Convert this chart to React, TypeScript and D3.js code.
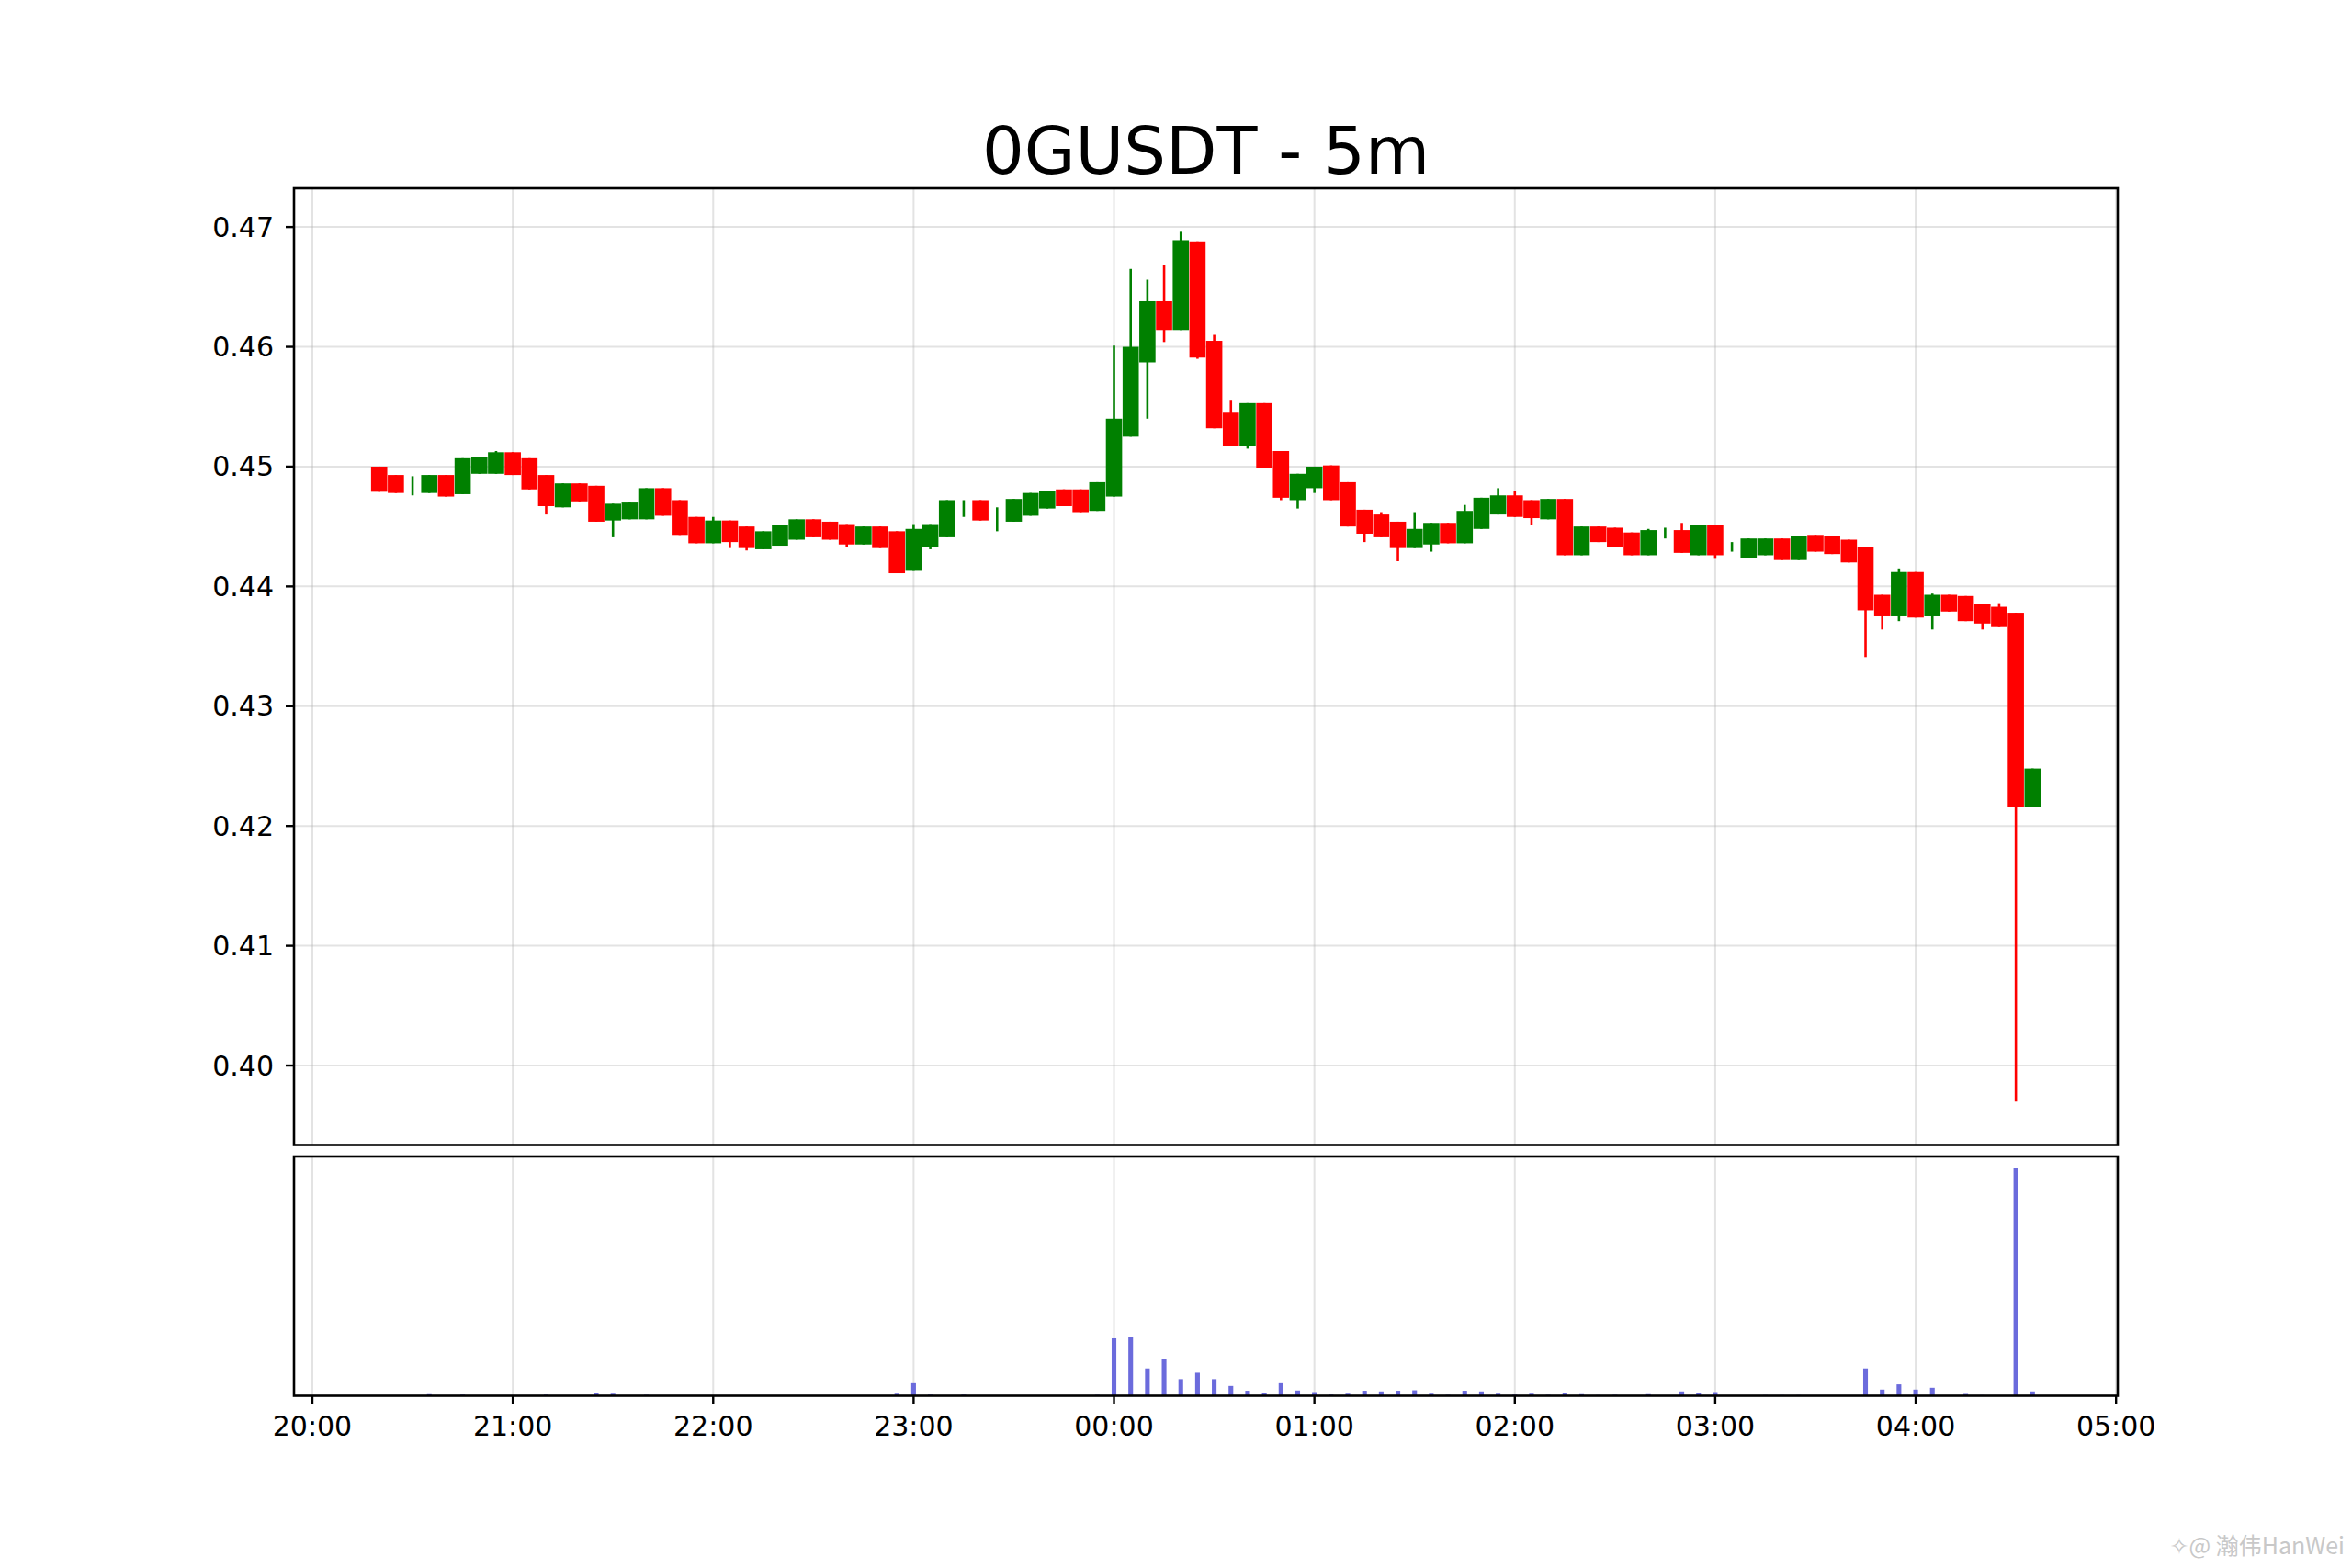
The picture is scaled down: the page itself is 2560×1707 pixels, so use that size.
import React from 'react';
import * as d3 from 'd3';

// 5m candles, 20:20 -> 04:35
const times = [
  '20:20', '20:25', '20:30', '20:35', '20:40', '20:45', '20:50', '20:55',
  '21:00', '21:05', '21:10', '21:15', '21:20', '21:25', '21:30', '21:35', '21:40', '21:45', '21:50', '21:55',
  '22:00', '22:05', '22:10', '22:15', '22:20', '22:25', '22:30', '22:35', '22:40', '22:45', '22:50', '22:55',
  '23:00', '23:05', '23:10', '23:15', '23:20', '23:25', '23:30', '23:35', '23:40', '23:45', '23:50', '23:55',
  '00:00', '00:05', '00:10', '00:15', '00:20', '00:25', '00:30', '00:35', '00:40', '00:45', '00:50', '00:55',
  '01:00', '01:05', '01:10', '01:15', '01:20', '01:25', '01:30', '01:35', '01:40', '01:45', '01:50', '01:55',
  '02:00', '02:05', '02:10', '02:15', '02:20', '02:25', '02:30', '02:35', '02:40', '02:45', '02:50', '02:55',
  '03:00', '03:05', '03:10', '03:15', '03:20', '03:25', '03:30', '03:35', '03:40', '03:45', '03:50', '03:55',
  '04:00', '04:05', '04:10', '04:15', '04:20', '04:25', '04:30', '04:35',
];

const opens = [
  0.4500, 0.4493, 0.4484, 0.4478, 0.4493, 0.4477, 0.4494, 0.4494,
  0.4512, 0.4507, 0.4493, 0.4466, 0.4486, 0.4484, 0.4455, 0.4456, 0.4456, 0.4482, 0.4472, 0.4458,
  0.4436, 0.4455, 0.4450, 0.4431, 0.4434, 0.4439, 0.4456, 0.4454, 0.4452, 0.4435, 0.4450, 0.4446,
  0.4413, 0.4433, 0.4441, 0.4466, 0.4472, 0.4455, 0.4454, 0.4459, 0.4465, 0.4481, 0.4481, 0.4463,
  0.4475, 0.4525, 0.4587, 0.4638, 0.4614, 0.4688, 0.4605, 0.4545, 0.4517, 0.4553, 0.4513, 0.4472,
  0.4482, 0.4501, 0.4487, 0.4464, 0.4460, 0.4454, 0.4432, 0.4435, 0.4453, 0.4436, 0.4448, 0.4460,
  0.4476, 0.4472, 0.4456, 0.4473, 0.4426, 0.4450, 0.4449, 0.4445, 0.4426, 0.4445, 0.4447, 0.4426,
  0.4451, 0.4434, 0.4424, 0.4426, 0.4440, 0.4422, 0.4443, 0.4442, 0.4439, 0.4433, 0.4393, 0.4375,
  0.4412, 0.4375, 0.4393, 0.4392, 0.4385, 0.4383, 0.4378, 0.4216,
];

const highs = [
  0.4500, 0.4493, 0.4492, 0.4493, 0.4493, 0.4507, 0.4508, 0.4513,
  0.4512, 0.4507, 0.4493, 0.4486, 0.4486, 0.4484, 0.4469, 0.4470, 0.4482, 0.4482, 0.4472, 0.4458,
  0.4458, 0.4455, 0.4450, 0.4446, 0.4451, 0.4456, 0.4456, 0.4454, 0.4452, 0.4450, 0.4450, 0.4446,
  0.4452, 0.4452, 0.4472, 0.4472, 0.4472, 0.4466, 0.4473, 0.4478, 0.4480, 0.4481, 0.4481, 0.4487,
  0.4601, 0.4665, 0.4656, 0.4668, 0.4696, 0.4688, 0.4610, 0.4555, 0.4553, 0.4553, 0.4513, 0.4494,
  0.4500, 0.4501, 0.4487, 0.4464, 0.4462, 0.4454, 0.4462, 0.4453, 0.4453, 0.4468, 0.4474, 0.4482,
  0.4480, 0.4472, 0.4473, 0.4473, 0.4450, 0.4450, 0.4449, 0.4445, 0.4448, 0.4449, 0.4453, 0.4451,
  0.4451, 0.4437, 0.4440, 0.4440, 0.4440, 0.4442, 0.4443, 0.4442, 0.4439, 0.4433, 0.4393, 0.4415,
  0.4412, 0.4394, 0.4393, 0.4392, 0.4385, 0.4386, 0.4378, 0.4248,
];

const lows = [
  0.4479, 0.4478, 0.4476, 0.4478, 0.4475, 0.4477, 0.4494, 0.4494,
  0.4493, 0.4481, 0.4460, 0.4466, 0.4471, 0.4454, 0.4441, 0.4456, 0.4456, 0.4459, 0.4443, 0.4436,
  0.4436, 0.4432, 0.4430, 0.4431, 0.4434, 0.4439, 0.4441, 0.4439, 0.4433, 0.4435, 0.4432, 0.4411,
  0.4413, 0.4431, 0.4441, 0.4458, 0.4455, 0.4446, 0.4454, 0.4459, 0.4465, 0.4467, 0.4462, 0.4463,
  0.4475, 0.4525, 0.4540, 0.4604, 0.4614, 0.4590, 0.4532, 0.4517, 0.4515, 0.4499, 0.4472, 0.4465,
  0.4478, 0.4472, 0.4450, 0.4437, 0.4441, 0.4421, 0.4432, 0.4429, 0.4436, 0.4436, 0.4448, 0.4460,
  0.4458, 0.4451, 0.4456, 0.4426, 0.4426, 0.4437, 0.4433, 0.4426, 0.4426, 0.4440, 0.4428, 0.4426,
  0.4423, 0.4429, 0.4424, 0.4426, 0.4422, 0.4422, 0.4429, 0.4427, 0.4420, 0.4341, 0.4364, 0.4371,
  0.4374, 0.4364, 0.4379, 0.4371, 0.4364, 0.4366, 0.3970, 0.4216,
];

const closes = [
  0.4479, 0.4478, 0.4484, 0.4493, 0.4475, 0.4507, 0.4508, 0.4512,
  0.4493, 0.4481, 0.4467, 0.4486, 0.4471, 0.4454, 0.4469, 0.4470, 0.4482, 0.4459, 0.4443, 0.4436,
  0.4455, 0.4437, 0.4432, 0.4446, 0.4451, 0.4456, 0.4441, 0.4439, 0.4435, 0.4450, 0.4432, 0.4411,
  0.4448, 0.4452, 0.4472, 0.4466, 0.4455, 0.4455, 0.4473, 0.4478, 0.4480, 0.4467, 0.4462, 0.4487,
  0.4540, 0.4600, 0.4638, 0.4614, 0.4689, 0.4591, 0.4532, 0.4517, 0.4553, 0.4499, 0.4474, 0.4494,
  0.4500, 0.4472, 0.4450, 0.4444, 0.4441, 0.4432, 0.4448, 0.4453, 0.4436, 0.4463, 0.4474, 0.4476,
  0.4458, 0.4457, 0.4473, 0.4426, 0.4450, 0.4437, 0.4433, 0.4426, 0.4447, 0.4445, 0.4428, 0.4451,
  0.4426, 0.4434, 0.4440, 0.4440, 0.4422, 0.4442, 0.4429, 0.4427, 0.4420, 0.4380, 0.4375, 0.4412,
  0.4374, 0.4393, 0.4379, 0.4371, 0.4369, 0.4366, 0.4216, 0.4248,
];

// relative volume (no axis labels in the source)
const volumes = [
  2, 1, 1, 7, 1, 5, 1, 1,
  1, 1, 5, 1, 1, 11, 9, 1, 4, 1, 1, 1,
  1, 1, 1, 1, 1, 1, 1, 1, 1, 1, 1, 9,
  55, 5, 1, 5, 1, 1, 1, 1, 1, 1, 1, 4,
  252, 257, 120, 160, 73, 101, 73, 43, 22, 11, 55, 23,
  16, 5, 9, 22, 19, 22, 24, 9, 4, 22, 19, 9,
  5, 9, 4, 11, 7, 3, 4, 1, 7, 1, 19, 11,
  16, 1, 1, 3, 3, 3, 1, 1, 1, 120, 27, 50,
  27, 35, 1, 8, 3, 1, 1000, 19,
];

const TITLE = '0GUSDT - 5m';
const UP = '#008000';
const DOWN = '#ff0000';
const VOL = '#6b6bdc';
const FONT = '"DejaVu Sans", sans-serif';

const W = 2560;
const H = 1707;
const mainBox = { left: 320, right: 2305, top: 205, bottom: 1246.5 };
const volBox = { left: 320, right: 2305, top: 1259, bottom: 1519.5 };

const MIN = 60 * 1000;

function toDate(t: string) {
  const [h, m] = t.split(':').map(Number);
  const day = h < 12 ? 2 : 1; // after midnight -> next day
  return new Date(Date.UTC(2025, 0, day, h, m));
}

const candles = times.map((t, i) => ({
  date: toDate(t),
  o: opens[i],
  h: Math.max(highs[i], opens[i], closes[i]),
  l: Math.min(lows[i], opens[i], closes[i]),
  c: closes[i],
  v: volumes[i],
}));

export default function App() {
  const first = candles[0].date.getTime();
  const last = candles[candles.length - 1].date.getTime();
  const pad = 25.5 * MIN;

  const x = d3.scaleUtc()
    .domain([new Date(first - pad), new Date(last + pad)])
    .range([mainBox.left, mainBox.right]);

  const lo = d3.min(candles, d => d.l)!;
  const hi = d3.max(candles, d => d.h)!;
  const span = hi - lo;
  const y = d3.scaleLinear()
    .domain([lo - span * 0.05, hi + span * 0.05])
    .range([mainBox.bottom, mainBox.top]);

  const vMax = d3.max(candles, d => d.v)!;
  const yv = d3.scaleLinear()
    .domain([0, vMax * 1.05])
    .range([volBox.bottom, volBox.top]);

  const bodyW = x(new Date(first + 4.85 * MIN)) - x(new Date(first));
  const volW = x(new Date(first + 1.4 * MIN)) - x(new Date(first));

  const xTicks = x.ticks(d3.utcHour.every(1)!);
  const fmt = d3.utcFormat('%H:%M');
  const yTicks = d3.range(0.40, 0.4701, 0.01);

  return (
    <svg width={W} height={H} style={{ position: 'absolute', left: 0, top: 0, background: '#fff' }}
      fontFamily={FONT}>
      <rect x={0} y={0} width={W} height={H} fill="#fff" />

      <text x={(mainBox.left + mainBox.right) / 2} y={189} textAnchor="middle" fontSize={72} fill="#000">
        {TITLE}
      </text>

      {/* grid */}
      <g stroke="#b0b0b0" strokeOpacity={0.35} strokeWidth={2}>
        {xTicks.map((t, i) => (
          <line key={'gx' + i} x1={x(t)} x2={x(t)} y1={mainBox.top} y2={mainBox.bottom} />
        ))}
        {yTicks.map((v, i) => (
          <line key={'gy' + i} x1={mainBox.left} x2={mainBox.right} y1={y(v)} y2={y(v)} />
        ))}
        {xTicks.map((t, i) => (
          <line key={'gv' + i} x1={x(t)} x2={x(t)} y1={volBox.top} y2={volBox.bottom} />
        ))}
      </g>

      {/* candles */}
      <g>
        {candles.map((d, i) => {
          const col = d.c >= d.o ? UP : DOWN;
          const cx = x(d.date);
          const top = y(Math.max(d.o, d.c));
          const bot = y(Math.min(d.o, d.c));
          return (
            <g key={'c' + i}>
              <line x1={cx} x2={cx} y1={y(d.h)} y2={y(d.l)} stroke={col} strokeWidth={2.6} />
              {bot - top > 0 && (
                <rect x={cx - bodyW / 2} y={top} width={bodyW} height={bot - top} fill={col} />
              )}
            </g>
          );
        })}
      </g>

      {/* volume */}
      <g fill={VOL}>
        {candles.map((d, i) => (
          <rect key={'v' + i} x={x(d.date) - volW / 2} y={yv(d.v)} width={volW}
            height={volBox.bottom - yv(d.v)} />
        ))}
      </g>

      {/* frames */}
      <rect x={mainBox.left} y={mainBox.top} width={mainBox.right - mainBox.left}
        height={mainBox.bottom - mainBox.top} fill="none" stroke="#000" strokeWidth={2.6} />
      <rect x={volBox.left} y={volBox.top} width={volBox.right - volBox.left}
        height={volBox.bottom - volBox.top} fill="none" stroke="#000" strokeWidth={2.6} />

      {/* y axis */}
      <g>
        {yTicks.map((v, i) => (
          <g key={'yt' + i}>
            <line x1={mainBox.left - 9} x2={mainBox.left} y1={y(v)} y2={y(v)} stroke="#000" strokeWidth={2.4} />
            <text x={mainBox.left - 22} y={y(v)} dy="0.35em" textAnchor="end" fontSize={30} fill="#000">
              {v.toFixed(2)}
            </text>
          </g>
        ))}
      </g>

      {/* x axis */}
      <g>
        {xTicks.map((t, i) => (
          <g key={'xt' + i}>
            <line x1={x(t)} x2={x(t)} y1={volBox.bottom} y2={volBox.bottom + 9} stroke="#000" strokeWidth={2.4} />
            <text x={x(t)} y={1563} textAnchor="middle" fontSize={30} fill="#000">
              {fmt(t)}
            </text>
          </g>
        ))}
      </g>

      {/* watermark */}
      <text x={2552} y={1692} textAnchor="end" fontSize={25} fill="#c8c8c8"
        fontFamily='"Noto Sans CJK SC", "DejaVu Sans", sans-serif'>
        ✧@ 瀚伟HanWei
      </text>
    </svg>
  );
}
